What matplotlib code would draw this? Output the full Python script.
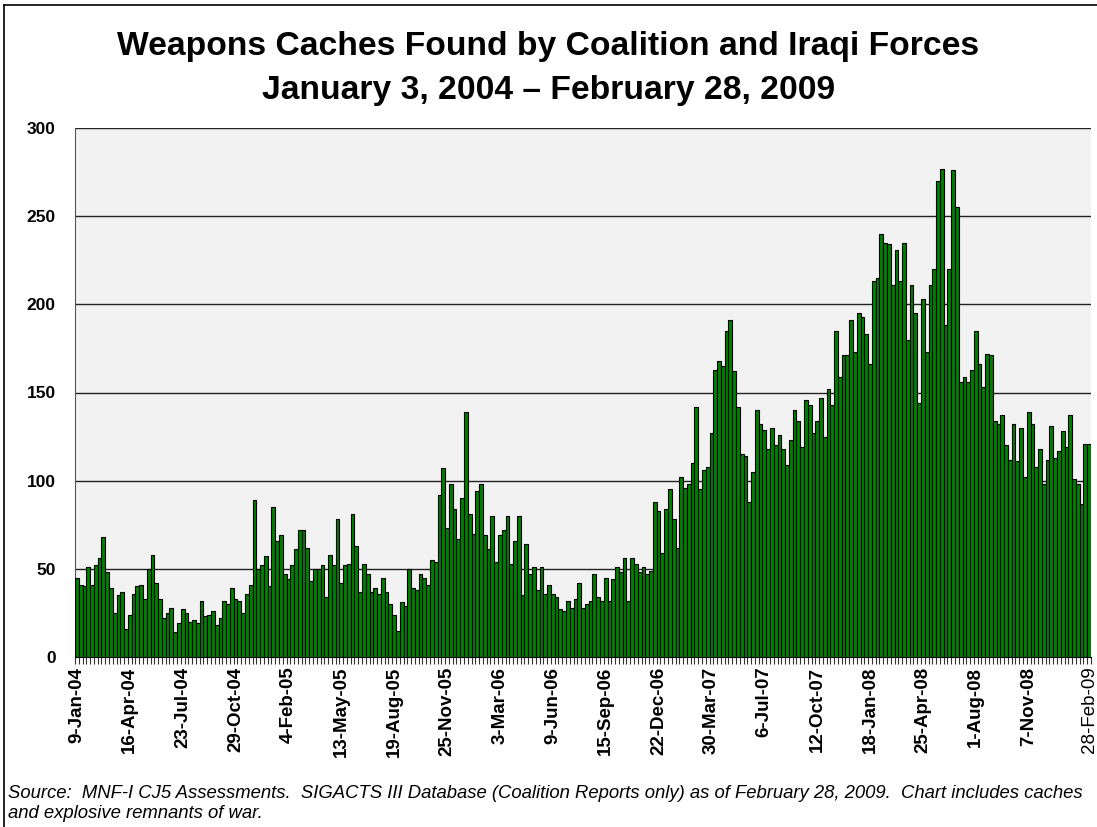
import matplotlib
matplotlib.use("Agg")
import matplotlib.pyplot as plt
from matplotlib.lines import Line2D

plt.rcParams['font.family'] = ['Liberation Sans', 'DejaVu Sans']

# weekly counts of caches found, 9-Jan-04 .. 28-Feb-09
caches = [
    45, 41, 40, 51, 41, 52, 56, 68, 48, 39, 25, 35, 37, 16, 24, 36, 40, 41, 33, 50,
    58, 42, 33, 22, 25, 28, 14, 19, 27, 25, 20, 21, 19, 32, 23, 24, 26, 18, 22, 32,
    30, 39, 33, 32, 25, 36, 41, 89, 50, 52, 57, 40, 85, 66, 69, 47, 44, 52, 61, 72,
    72, 62, 43, 50, 50, 52, 34, 58, 52, 78, 42, 52, 53, 81, 63, 37, 53, 47, 37, 39,
    36, 45, 37, 30, 24, 15, 31, 29, 50, 39, 38, 47, 45, 41, 55, 54, 92, 107, 73, 98,
    84, 67, 90, 139, 81, 70, 94, 98, 69, 61, 80, 54, 69, 72, 80, 53, 66, 80, 35, 64,
    47, 51, 38, 51, 36, 41, 36, 34, 27, 26, 32, 28, 33, 42, 28, 30, 32, 47, 34, 32,
    45, 32, 44, 51, 48, 56, 32, 56, 53, 48, 51, 47, 49, 88, 83, 59, 84, 95, 78, 62,
    102, 96, 98, 110, 142, 95, 106, 108, 127, 163, 168, 165, 185, 191, 162, 142, 115, 114, 88, 105,
    140, 132, 129, 118, 130, 120, 126, 118, 109, 123, 140, 134, 119, 146, 143, 127, 134, 147, 125, 152,
    143, 185, 159, 171, 171, 191, 173, 195, 193, 183, 166, 213, 215, 240, 235, 234, 211, 231, 213, 235,
    180, 211, 195, 144, 203, 173, 211, 220, 270, 277, 188, 220, 276, 255, 156, 159, 156, 163, 185, 166,
    153, 172, 171, 134, 132, 137, 120, 112, 132, 111, 130, 102, 139, 132, 108, 118, 98, 112, 131, 113,
    117, 128, 119, 137, 101, 98, 87, 121, 121,
]

# labelled weeks (every 14th bar) plus the last one
label_idx = [0, 14, 28, 42, 56, 70, 84, 98, 112, 126, 140, 154, 168, 182, 196, 210, 224, 238, 252]
label_txt = ['9-Jan-04', '16-Apr-04', '23-Jul-04', '29-Oct-04', '4-Feb-05', '13-May-05',
             '19-Aug-05', '25-Nov-05', '3-Mar-06', '9-Jun-06', '15-Sep-06', '22-Dec-06',
             '30-Mar-07', '6-Jul-07', '12-Oct-07', '18-Jan-08', '25-Apr-08', '1-Aug-08',
             '7-Nov-08']
last_txt = '28-Feb-09'

W, H = 1097, 827
fig = plt.figure(figsize=(W / 100, H / 100), dpi=100)
ax = fig.add_axes([75 / W, 1 - 657 / H, (1091 - 75) / W, (657 - 128) / H])
ax.set_facecolor('#F2F2F2')

n = len(caches)
x = list(range(n))
ax.bar(x, caches, width=1.0, color='#008000', edgecolor='black', linewidth=0.8, zorder=3)

ax.set_xlim(-0.5, n - 0.5)
ax.set_ylim(0, 300)
ax.set_yticks(range(0, 301, 50))
ax.set_yticklabels([str(v) for v in range(0, 301, 50)], fontsize=12.5, fontweight='bold')
ax.tick_params(axis='y', length=0, pad=14)
for v in range(50, 301, 50):
    ax.axhline(v, color='#222222', linewidth=1.0, zorder=1)

# small tick marks between every week
ax.set_xticks([i - 0.5 for i in range(n + 1)])
ax.set_xticklabels([])
ax.tick_params(axis='x', length=5, width=0.8, color='#333333', direction='out')

for i, t in zip(label_idx, label_txt):
    ax.text(i, -5.5, t, rotation=90, ha='center', va='top', fontsize=13.5,
            fontweight='bold', transform=ax.transData, clip_on=False)
ax.text(n - 1, -5.5, last_txt, rotation=90, ha='center', va='top', fontsize=13.5,
        transform=ax.transData, clip_on=False)

for side in ['top', 'right']:
    ax.spines[side].set_visible(False)
ax.spines['left'].set_color('#555555')
ax.spines['bottom'].set_color('black')

# title
fig.text(0.5, 1 - 46 / H, 'Weapons Caches Found by Coalition and Iraqi Forces',
         ha='center', va='center', fontsize=24.2, fontweight='bold')
fig.text(0.5, 1 - 90 / H, 'January 3, 2004 \u2013 February 28, 2009',
         ha='center', va='center', fontsize=24.2, fontweight='bold')

# source note
fig.text(8 / W, 1 - 794 / H,
         'Source:  MNF-I CJ5 Assessments.  SIGACTS III Database (Coalition Reports only) '
         'as of February 28, 2009.  Chart includes caches',
         ha='left', va='center', fontsize=13.3, style='italic')
fig.text(8 / W, 1 - 814 / H, 'and explosive remnants of war.',
         ha='left', va='center', fontsize=13.3, style='italic')

# slide frame
fig.add_artist(Line2D([4 / W, 4 / W], [0, 1 - 5 / H], transform=fig.transFigure,
                      color='black', linewidth=1.2))
fig.add_artist(Line2D([4 / W, 1], [1 - 5 / H, 1 - 5 / H], transform=fig.transFigure,
                      color='black', linewidth=1.2))

fig.savefig('out.png', dpi=100)
